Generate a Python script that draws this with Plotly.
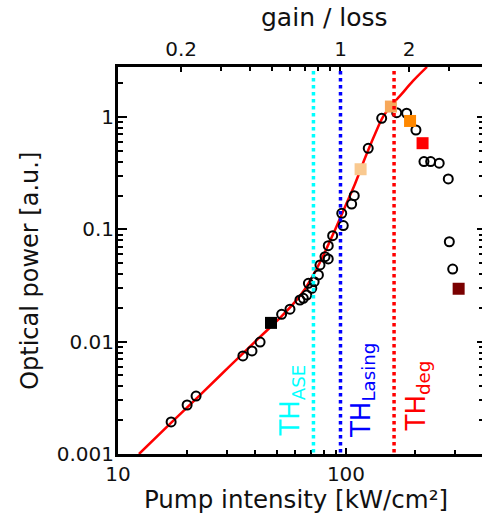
import numpy as np
import plotly.graph_objects as go

# ---------------- data ----------------
# measured points (open circles): pump intensity [kW/cm2], optical power [a.u.]
pump_meas = [17.1, 20.1, 22.0, 35.3, 38.7, 42.0, 52.2, 56.8, 62.8, 65.0, 67.3,
             68.4, 70.8, 72.5, 75.7, 76.9, 80.9, 83.6, 83.6, 87.4, 95.8, 97.3,
             105.9, 108.7, 125.2, 143.4, 166.9, 184.5, 202.7, 219.8, 235.2,
             256.4, 281.0, 284.0, 293.8]
power_meas = [0.00193, 0.00273, 0.00328, 0.00746, 0.00827, 0.00993, 0.01754,
              0.01945, 0.0235, 0.0243, 0.0260, 0.0331, 0.0299, 0.0342, 0.0393,
              0.0482, 0.0571, 0.0545, 0.0716, 0.0879, 0.139, 0.108, 0.168,
              0.1995, 0.527, 0.975, 1.094, 1.081, 0.767, 0.401, 0.401, 0.388,
              0.281, 0.0776, 0.0443]

# highlighted points (filled squares)
pump_sq = [46.9, 115.9, 157.4, 191.0, 216.7, 312.0]
power_sq = [0.0147, 0.343, 1.24, 0.923, 0.585, 0.0296]
sq_colors = ["#000000", "#F9C990", "#F7A85A", "#FF8800", "#FF0000", "#7A0000"]

# fitted curve (red line)
fit_pump = [12.36, 17.08, 22.88, 30.99, 41.97, 51.34, 59.74, 66.11, 73.11,
            80.89, 89.48, 98.99, 109.5, 121.2, 134.1, 145.3, 156.0, 172.5,
            196.8, 226.6]
fit_power = [0.001, 0.00189, 0.00335, 0.00608, 0.01102, 0.01626, 0.02259,
             0.02946, 0.04176, 0.06295, 0.0988, 0.1584, 0.2537, 0.4325,
             0.7077, 1.002, 1.230, 1.542, 2.096, 2.793]

# thresholds
th_names = ["ASE", "Lasing", "deg"]
th_pump = [72.0, 94.6, 162.5]
th_colors = ["#00FFFF", "#0000FF", "#FF0000"]

# axes
x_range = [10, 395]
y_range = [0.001, 2.79]
x_ticks_major = [10, 100]
x_ticks_minor = [20, 30, 40, 50, 60, 70, 80, 90, 200, 300]
y_ticks_major = [0.001, 0.01, 0.1, 1]
y_ticks_major_text = ["0.001", "0.01", "0.1", "1"]
y_ticks_minor = [m * 10.0 ** e for e in range(-3, 1) for m in range(2, 10)]
gl_ticks_major = [0.2, 1, 2]
gl_ticks_minor = [0.3, 0.4, 0.5, 0.6, 0.7, 0.8, 0.9, 3]
gl_ref = th_pump[1]  # gain/loss = 1 at lasing threshold

FONT = "DejaVu Sans, Liberation Sans, Arial"

fig = go.Figure()

fig.add_trace(go.Scatter(x=fit_pump, y=fit_power, mode="lines",
                         line=dict(color="#FF0000", width=2.5, shape="spline"),
                         hoverinfo="skip", showlegend=False))
fig.add_trace(go.Scatter(x=pump_meas, y=power_meas, mode="markers",
                         marker=dict(symbol="circle-open", size=9, color="black",
                                     line=dict(width=2, color="black")),
                         showlegend=False))
fig.add_trace(go.Scatter(x=pump_sq, y=power_sq, mode="markers",
                         marker=dict(symbol="square", size=12, color=sq_colors,
                                     line=dict(width=0)),
                         showlegend=False))
# invisible helpers so that the top (gain/loss) and right axes get drawn
fig.add_trace(go.Scatter(x=[1], y=[0.01], xaxis="x2", yaxis="y",
                         mode="markers", marker=dict(opacity=0),
                         hoverinfo="skip", showlegend=False))
fig.add_trace(go.Scatter(x=[50], y=[0.01], xaxis="x", yaxis="y2",
                         mode="markers", marker=dict(opacity=0),
                         hoverinfo="skip", showlegend=False))

shapes = []
for xv, c in zip(th_pump, th_colors):
    shapes.append(dict(type="line", xref="x", yref="paper", x0=xv, x1=xv,
                       y0=0.004, y1=0.996, line=dict(color=c, width=3.5, dash="dot"),
                       layer="above"))

annotations = []
th_shift = [-22, 22, 23]
th_y = [0.041, 0.036, 0.052]
for name, xv, c, sh, yy in zip(th_names, th_pump, th_colors, th_shift, th_y):
    annotations.append(dict(x=np.log10(xv), xref="x", y=yy, yref="paper",
                            text="TH<sub>%s</sub>" % name, showarrow=False,
                            textangle=-90, xanchor="center", yanchor="bottom",
                            xshift=sh, font=dict(family=FONT, size=26, color=c)))

annotations += [
    dict(text="gain / loss", x=0.566, y=1.127, xref="paper", yref="paper",
         showarrow=False, xanchor="center", yanchor="middle",
         font=dict(family=FONT, size=25, color="#111")),
    dict(text="Pump intensity [kW/cm²]", x=0.489, y=-0.118, xref="paper",
         yref="paper", showarrow=False, xanchor="center", yanchor="middle",
         font=dict(family=FONT, size=24.5, color="#111")),
    dict(text="Optical power [a.u.]", x=-0.242, y=0.473, xref="paper",
         yref="paper", showarrow=False, xanchor="center", yanchor="middle",
         textangle=-90, font=dict(family=FONT, size=24, color="#111")),
]

lx = [np.log10(v) for v in x_range]
ly = [np.log10(v) for v in y_range]

common = dict(showgrid=False, zeroline=False, automargin=False)

fig.update_layout(
    width=482, height=519,
    margin=dict(l=118, r=0, t=67, b=65),
    paper_bgcolor="white", plot_bgcolor="white",
    template="none",
    showlegend=False,
    shapes=shapes,
    annotations=annotations,
    xaxis=dict(type="log", range=lx, showline=True, linecolor="black",
               linewidth=3, ticks="inside", ticklen=6, tickwidth=2,
               tickcolor="black", tickmode="array", tickvals=x_ticks_major,
               ticktext=["10", "100"], ticklabelstandoff=0,
               tickfont=dict(family=FONT, size=20, color="#111"),
               minor=dict(tickmode="array", tickvals=x_ticks_minor,
                          ticks="inside", ticklen=4, tickwidth=2,
                          tickcolor="black"),
               **common),
    xaxis2=dict(type="log", overlaying="x", side="top", anchor="y",
                range=[l - np.log10(gl_ref) for l in lx], showline=True,
                linecolor="black", linewidth=3, ticks="inside", ticklen=5,
                tickwidth=2, tickcolor="black", tickmode="array",
                tickvals=gl_ticks_major, ticktext=["0.2", "1", "2"],
                tickfont=dict(family=FONT, size=20, color="#111"),
                minor=dict(tickmode="array", tickvals=gl_ticks_minor,
                           ticks="inside", ticklen=4, tickwidth=2,
                           tickcolor="black"),
                **common),
    yaxis=dict(type="log", range=ly, showline=True, linecolor="black",
               linewidth=3, ticks="inside", ticklen=9, tickwidth=2,
               tickcolor="black", tickmode="array", tickvals=y_ticks_major,
               ticktext=y_ticks_major_text, ticklabelstandoff=-3,
               tickfont=dict(family=FONT, size=20, color="#111"),
               minor=dict(tickmode="array", tickvals=y_ticks_minor,
                          ticks="inside", ticklen=5, tickwidth=2,
                          tickcolor="black"),
               **common),
    yaxis2=dict(type="log", overlaying="y", side="right", anchor="x",
                range=ly, showline=False, ticks="inside", ticklen=5,
                tickwidth=2, tickcolor="black", tickmode="array",
                tickvals=y_ticks_major, showticklabels=False,
                minor=dict(tickmode="array", tickvals=y_ticks_minor,
                           ticks="inside", ticklen=3, tickwidth=2,
                           tickcolor="black"),
                **common),
)

fig.write_html("out.html")
